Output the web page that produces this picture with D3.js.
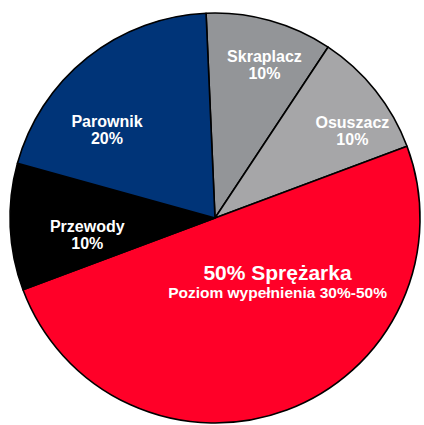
<!DOCTYPE html>
<html>
<head>
<meta charset="utf-8">
<script src="https://cdn.jsdelivr.net/npm/d3@7"></script>
<style>
    body { margin: 0; background: #fff; }
    text { font-family: "Liberation Sans", Arial, sans-serif; font-weight: bold; fill: #fff; }
</style>
</head>
<body>
<div id="chart"></div>
<script>
// slice data, in drawing order (clockwise from top)
var names = ["Skraplacz", "Osuszacz", "Sprężarka", "Przewody", "Parownik"];
var shares = [10, 10, 50, 10, 20];
var subtitles = ["", "", "Poziom wypełnienia 30%-50%", "", ""];
var colors = ["#939598", "#a6a6a8", "#ff0028", "#000000", "#003478"];

// label placement: radius and angle shift (deg) from slice middle
var labelRadius = [160, 162, 90, 129, 139];
var labelShift = [2.5, 6.5, -23.5, -5.5, -12.5];

var width = 424, height = 425;
var cx = 215, cy = 218, r = 205;

var svg = d3.select("#chart")
    .append("svg")
    .attr("width", width)
    .attr("height", height)
    .append("g")
    .attr("transform", "translate(" + cx + "," + cy + ")");

var slices = names.map(function(n, i) {
    return {name: n, value: shares[i], sub: subtitles[i], color: colors[i], idx: i};
});

var pie = d3.pie()
    .sort(null)
    .value(function(d) { return d.value; })
    .startAngle(-2.5 * Math.PI / 180)
    .endAngle((360 - 2.5) * Math.PI / 180);

var arc = d3.arc().innerRadius(0).outerRadius(r);

var arcs = pie(slices);

svg.selectAll(".slice")
    .data(arcs)
    .enter().append("path")
    .attr("class", "slice")
    .attr("d", arc)
    .style("fill", function(d) { return d.data.color; })
    .style("stroke", "#000")
    .style("stroke-width", 1.6)
    .style("stroke-linejoin", "round");

function labelPos(d) {
    var i = d.data.idx;
    var a = (d.startAngle + d.endAngle) / 2 + labelShift[i] * Math.PI / 180;
    return [labelRadius[i] * Math.sin(a), -labelRadius[i] * Math.cos(a)];
}

var labels = svg.selectAll(".label")
    .data(arcs)
    .enter().append("g")
    .attr("class", "label")
    .attr("transform", function(d) {
        var p = labelPos(d);
        return "translate(" + p[0] + "," + p[1] + ")";
    });

labels.each(function(d) {
    var g = d3.select(this);
    if (d.data.sub) {
        g.append("text")
            .attr("text-anchor", "middle")
            .attr("y", -3)
            .style("font-size", "21px")
            .text(d.data.value + "% " + d.data.name);
        g.append("text")
            .attr("text-anchor", "middle")
            .attr("y", 15)
            .style("font-size", "15.5px")
            .text(d.data.sub);
    } else {
        g.append("text")
            .attr("text-anchor", "middle")
            .attr("y", -4)
            .style("font-size", "16px")
            .text(d.data.name);
        g.append("text")
            .attr("text-anchor", "middle")
            .attr("y", 13)
            .style("font-size", "16px")
            .text(d.data.value + "%");
    }
});
</script>
</body>
</html>
